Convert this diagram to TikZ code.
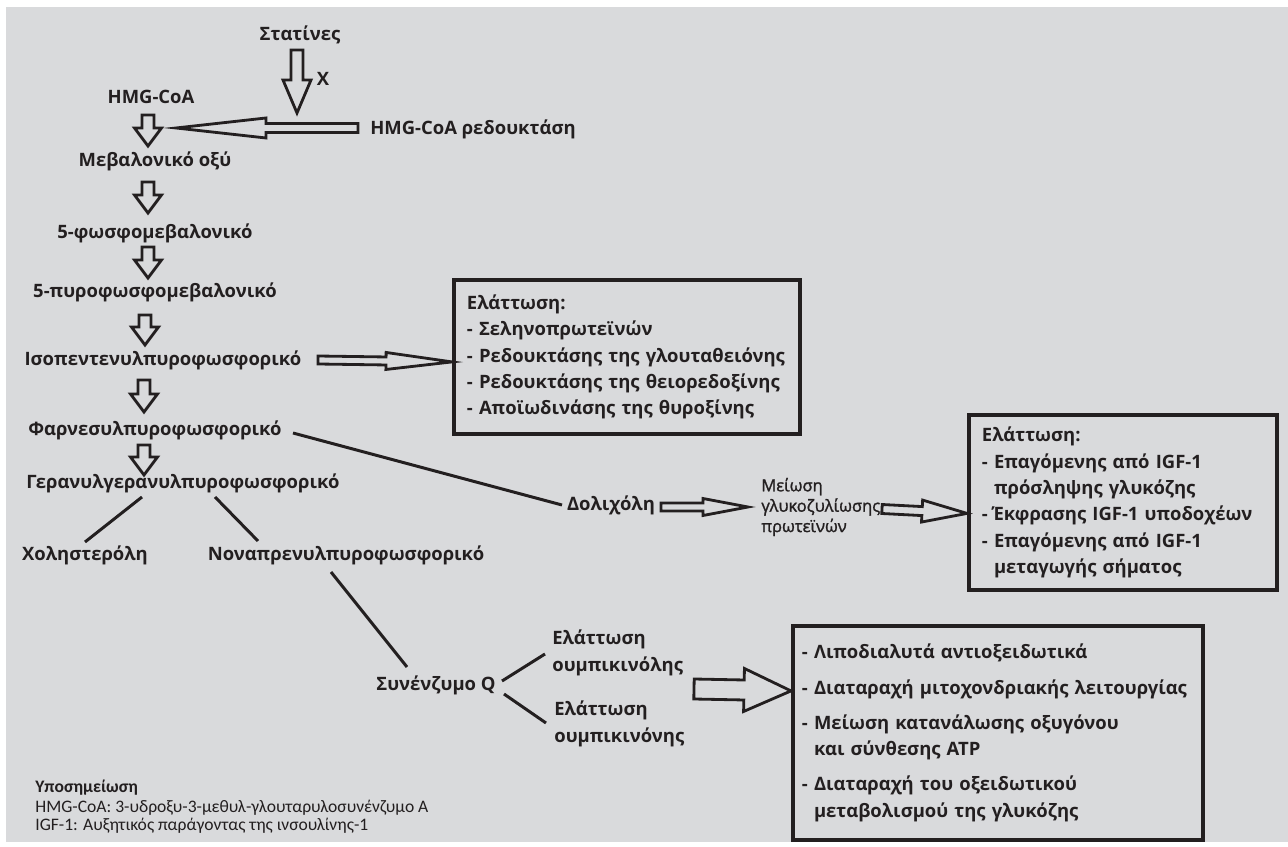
\documentclass[tikz,border=0pt]{standalone}
\usepackage{fontspec}
\setmainfont{Open Sans}
\newfontfamily\notefont{Carlito}
\newfontfamily\semifont[FakeBold=1.5]{Open Sans}
\usetikzlibrary{calc, positioning}

\definecolor{bg}{HTML}{D9DADC}
\definecolor{ink}{HTML}{231F20}

\newcommand\glycfont{\semifont\fontsize{9.4}{11.6}\selectfont\lineskiplimit -5pt\relax}

% block arrow: tail, tip, half shaft, half head, head length
\newcommand\fatarrow[5]{%
  \coordinate (fa-a) at (#1);
  \coordinate (fa-b) at (#2);
  \coordinate (fa-h) at ($(fa-b)!#5!(fa-a)$);
  \draw[fatarr] ($(fa-a)!#3!90:(fa-b)$) -- ($(fa-h)!#3!90:(fa-b)$)
     -- ($(fa-h)!#4!90:(fa-b)$) -- (fa-b) -- ($(fa-h)!#4!-90:(fa-b)$)
     -- ($(fa-h)!#3!-90:(fa-b)$) -- ($(fa-a)!#3!-90:(fa-b)$) -- cycle;}

\begin{document}
\begin{tikzpicture}[x=0.02cm, y=-0.02cm,
every node/.style = {inner sep=0pt, text=ink,
                     font=\bfseries\fontsize{10.5}{15}\selectfont},
box/.style = {draw=ink, line width=2.2pt, anchor=north west,
              align=left, inner xsep=0.26cm},
link/.style = {draw=ink, line width=1.7pt},
fatarr/.style = {draw=ink, line width=1.6pt, line join=miter},
small/.style = {font=\glycfont, text width=2.5cm, align=left, anchor=west},
note/.style = {font=\notefont\fontsize{10}{11}\selectfont, anchor=west},
                    ]
%---
\fill[white] (0,0) rectangle (1288,847);
\fill[bg] (6,7) rectangle (1288,842);

%--- pathway
\node (stat) at (300,35) {Στατίνες};
\node (x) at (323,79) {X};
\node (hmg) at (151,97) {HMG-CoA};
\node (red) [anchor=west] at (370,129) {HMG-CoA ρεδουκτάση};
\node (mev) at (155,161) {Μεβαλονικό οξύ};
\node (pmev) at (155,233) {5-φωσφομεβαλονικό};
\node (ppmev) at (155,292) {5-πυροφωσφομεβαλονικό};
\node (ipp) at (163,360) {Ισοπεντενυλπυροφωσφορικό};
\node (fpp) at (155,430) {Φαρνεσυλπυροφωσφορικό};
\node (ggpp) at (183,483) {Γερανυλγερανυλπυροφωσφορικό};
\node (chol) at (85,555) {Χοληστερόλη};
\node (nona) at (346,555) {Νοναπρενυλπυροφωσφορικό};
\node (coq) at (436,685) {Συνένζυμο Q};
\node (ubol) [anchor=west, align=left] at (552,653) {Ελάττωση\\ουμπικινόλης};
\node (ubon) [anchor=west, align=left] at (554,724) {Ελάττωση\\ουμπικινόνης};
\node (dol) at (611,505) {Δολιχόλη};
\node (glyc) [small] at (761,507) {Μείωση\\γλυκοζυλίωσης\\πρωτεϊνών};

%--- boxes
\node (box1) [box, text width=6.4cm, minimum width=6.92cm, minimum height=3.08cm]
   at (452,278) {Ελάττωση:\\- Σεληνοπρωτεϊνών\\- Ρεδουκτάσης της γλουταθειόνης\\
   - Ρεδουκτάσης της θειορεδοξίνης\\- Αποϊωδινάσης της θυροξίνης};
\node (box2) [box, text width=5.64cm, minimum width=6.16cm, minimum height=3.5cm]
   at (967,413) {Ελάττωση:\\- Επαγόμενης από IGF-1\\\phantom{- }πρόσληψης γλυκόζης\\
   -\kern2.5pt Έκφρασης IGF-1 υποδοχέων\\- Επαγόμενης από IGF-1\\\phantom{- }μεταγωγής σήματος};
\node (box3) [box, inner xsep=0.18cm, text width=7.84cm, minimum width=8.2cm, minimum height=4.28cm]
   at (791,624) {- Λιποδιαλυτά αντιοξειδωτικά\\[5pt]
   - Διαταραχή μιτοχονδριακής λειτουργίας\\[5pt]
   - Μείωση κατανάλωσης οξυγόνου\\\phantom{- }και σύνθεσης ATP\\[5pt]
   - Διαταραχή του οξειδωτικού\\\phantom{- }μεταβολισμού της γλυκόζης};

%--- footnote
\node (n1) [note, font=\notefont\bfseries\fontsize{10}{11}\selectfont] at (35,788) {Υποσημείωση};
\node (n2) [note] at (35,808) {HMG-CoA: 3-υδροξυ-3-μεθυλ-γλουταρυλοσυνένζυμο Α};
\node (n3) [note] at (35,826) {IGF-1: Αυξητικός παράγοντας της ινσουλίνης-1};

%--- block arrows
\fatarrow{$(stat)+(-3,15)$}{$(red.west)+(-73,-16)$}{0.12cm}{0.28cm}{0.66cm}
\fatarrow{$(red.west)+(-12,-1)$}{$(hmg)+(25,31)$}{0.09cm}{0.2cm}{1.8cm}
\fatarrow{$(hmg)+(-3,18)$}{$(mev)+(-7,-15)$}{0.12cm}{0.27cm}{0.36cm}
\fatarrow{$(mev)+(-7,21)$}{$(pmev)+(-7,-20)$}{0.12cm}{0.27cm}{0.36cm}
\fatarrow{$(pmev)+(-7,14)$}{$(ppmev)+(-7,-14)$}{0.12cm}{0.27cm}{0.36cm}
\fatarrow{$(ppmev)+(-10,23)$}{$(ipp)+(-18,-15)$}{0.12cm}{0.27cm}{0.36cm}
\fatarrow{$(ipp)+(-19,20)$}{$(fpp)+(-11,-18)$}{0.12cm}{0.27cm}{0.36cm}
\fatarrow{$(fpp)+(-11,15)$}{$(ggpp)+(-39,-8)$}{0.12cm}{0.27cm}{0.36cm}
\fatarrow{$(ipp)+(155,0)$}{$(box1.west)+(0,5)$}{0.08cm}{0.17cm}{1.32cm}
\fatarrow{$(dol)+(50,2)$}{$(glyc.west)+(-13,0)$}{0.08cm}{0.17cm}{0.9cm}
\fatarrow{$(glyc.west)+(121,2)$}{$(box2.west)+(0,11)$}{0.09cm}{0.22cm}{0.9cm}
\fatarrow{$(coq)+(258,4)$}{$(box3.west)+(0,-42)$}{0.2cm}{0.43cm}{0.94cm}

%--- links
\draw[link] ($(fpp)+(138,3)$) -- ($(dol)+(-49,0)$);
\draw[link] ($(ggpp)+(-41,14)$) -- ($(chol)+(0,-13)$);
\draw[link] ($(ggpp)+(32,14)$) -- ($(nona)+(-88,-14)$);
\draw[link] ($(nona)+(-15,17)$) -- ($(coq)+(-29,-18)$);
\draw[link] ($(coq)+(66,-4)$) -- ($(ubol.west)+(-7,1)$);
\draw[link] ($(coq)+(68,9)$) -- ($(ubon.west)+(-8,-1)$);

\end{tikzpicture}
\end{document}
